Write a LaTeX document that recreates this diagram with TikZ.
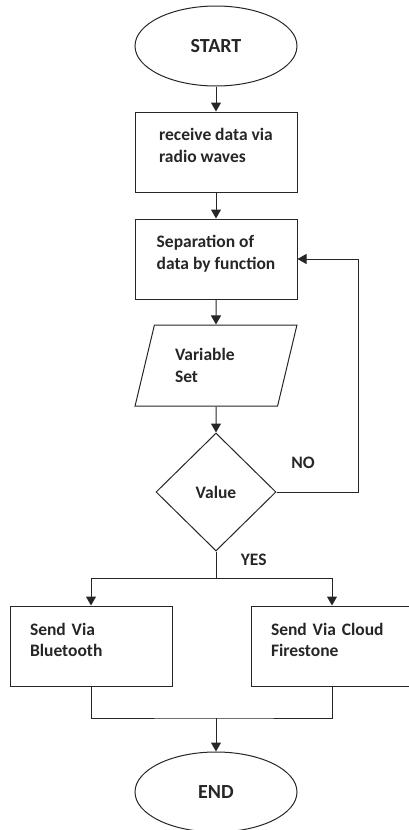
\documentclass[tikz,border=0pt]{standalone}
\usepackage{fontspec}
\setmainfont{Carlito}
\usetikzlibrary{shapes.geometric, arrows.meta, positioning}
\tikzset{
    terminal/.style={ellipse, draw, minimum width=162pt, minimum height=80pt, inner sep=0pt,
                     font=\fontsize{20}{24}\selectfont\bfseries},
    process/.style={rectangle, draw, minimum width=162pt, minimum height=80pt, align=left,
                    text depth=13pt},
    sendbox/.style={process, text width=122pt, inner xsep=20pt, text depth=34pt},
    inout/.style={trapezium, trapezium left angle=71, trapezium right angle=109,
                  trapezium stretches=true, draw, minimum width=162pt,
                  minimum height=81pt, align=left, text width=82pt},
    decision/.style={diamond, draw, minimum width=120pt, minimum height=118pt, inner sep=0pt},
    arrow/.style={-{Triangle[length=9pt, width=10pt]}},
}

\begin{document}
\begin{tikzpicture}[x=1pt, y=-1pt, line width=1pt, color=black!85,
    font=\fontsize{17.5}{21.4}\selectfont\bfseries]

    \useasboundingbox (0,0) rectangle (409,830);

    % Main column
    \node[terminal] (start) at (216,46) {START};
    \node[process] (recv) at (216,152) {receive data via\\radio waves};
    \node[process] (sep) at (216,259) {Separation of\\data by function};
    \node[inout] (var) at (216,365.5) {Variable\\Set};
    \node[decision] (val) at (216,492) {Value};

    % Output branches
    \node[sendbox] (bt) at (91,646) {Send Via\\Bluetooth};
    \node[sendbox] (cloud) at (332,646) {Send Via Cloud\\Firestone};
    \node[terminal] (end) at (216,792) {END};

    \coordinate (split) at (216,578);
    \coordinate (merge) at (216,718);

    % Flow
    \draw[arrow] (start) -- (recv);
    \draw[arrow] (recv) -- (sep);
    \draw[arrow] (sep) -- (var);
    \draw[arrow] (var) -- (val);

    % Loop back
    \draw[arrow] (val.east) -- ++(82,0) |- (sep.east);
    \node (no) at (303,463) {NO};

    % Yes branch
    \draw (val.south) -- (split);
    \node[anchor=west] (yes) at (237,560) {YES};
    \draw[arrow] (split) -| (bt);
    \draw[arrow] (split) -| (cloud);

    % Join
    \draw (bt.south) |- (merge) -| (cloud.south);
    \draw[arrow] (merge) -- (end);

\end{tikzpicture}
\end{document}
